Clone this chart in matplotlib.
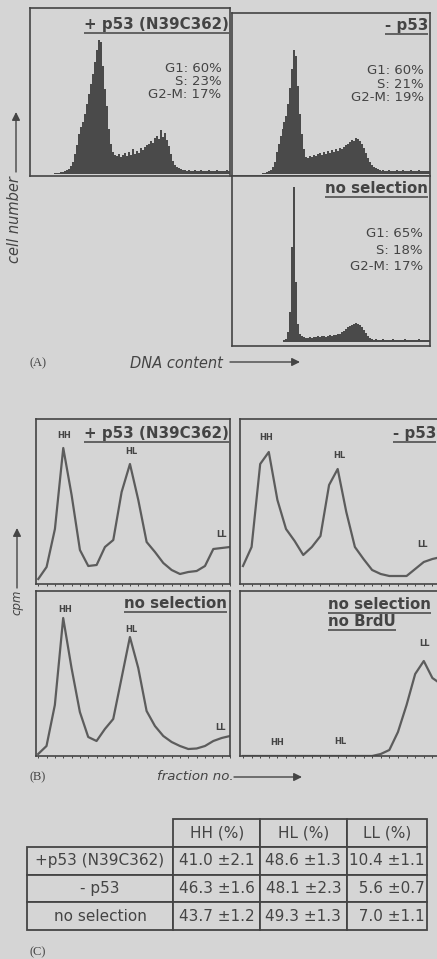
import numpy as np
import matplotlib.pyplot as plt

plt.rcParams['font.family'] = ['DejaVu Sans']

W, H = 437, 959
BG = '#d5d5d5'
INK = '#444444'
FILL = '#4a4a4a'
LINE = '#5c5c5c'

# (A) DNA content histograms, 100 channels each
hist_p53 = [0, 0, 0, 0, 0, 0, 0, 0, 0, 0, 0, 0, 1, 1, 1, 2, 2, 3, 4, 5,
            8, 12, 20, 29, 40, 47, 52, 60, 70, 80, 90, 100, 112, 124, 134, 132, 108, 85, 68, 45,
            30, 22, 19, 18, 20, 17, 19, 21, 18, 22, 19, 25, 20, 23, 21, 26, 24, 27, 29, 30,
            33, 31, 36, 38, 35, 44, 37, 41, 34, 28, 20, 13, 9, 7, 6, 5, 4, 4, 3, 4,
            3, 3, 4, 3, 3, 4, 3, 3, 3, 4, 3, 3, 3, 4, 3, 3, 3, 3, 4, 3]
hist_minus = [0, 0, 0, 0, 0, 0, 0, 0, 0, 0, 0, 0, 0, 0, 0, 1, 1, 2, 3, 4,
              7, 12, 22, 30, 38, 45, 52, 58, 70, 86, 105, 124, 118, 88, 60, 40, 25, 17, 16, 18,
              17, 19, 18, 20, 21, 19, 22, 20, 23, 21, 24, 22, 25, 23, 26, 25, 27, 29, 30, 32,
              34, 33, 36, 35, 33, 30, 26, 21, 16, 12, 9, 7, 6, 5, 4, 3, 4, 3, 3, 4,
              3, 3, 3, 4, 3, 3, 4, 3, 3, 3, 4, 3, 3, 3, 4, 3, 3, 3, 3, 3]
hist_nosel = [0, 0, 0, 0, 0, 0, 0, 0, 0, 0, 0, 0, 0, 0, 0, 0, 0, 0, 0, 0,
              0, 0, 0, 0, 0, 0, 2, 3, 10, 30, 95, 155, 60, 18, 8, 6, 5, 4, 4, 5,
              4, 5, 5, 6, 5, 6, 6, 5, 6, 7, 6, 7, 7, 8, 8, 10, 11, 13, 15, 16,
              17, 18, 19, 18, 17, 15, 12, 9, 6, 4, 3, 2, 3, 2, 2, 2, 3, 2, 2, 2,
              2, 3, 2, 2, 2, 2, 2, 3, 2, 2, 2, 2, 2, 2, 3, 2, 2, 2, 2, 2]

phases_p53 = ['G1: 60%', 'S: 23%', 'G2-M: 17%']
phases_minus = ['G1: 60%', 'S: 21%', 'G2-M: 19%']
phases_nosel = ['G1: 65%', 'S: 18%', 'G2-M: 17%']

# (B) CsCl gradient profiles (cpm per fraction)
fractions = np.arange(1, 25)
cpm_p53 = [5, 17, 55, 136, 89, 34, 18, 19, 37, 44, 92, 120, 84, 42, 32, 21, 14, 10, 12, 13, 18, 35, 36, 37]
cpm_minus = [18, 37, 120, 132, 84, 55, 43, 29, 37, 48, 99, 115, 72, 37, 25, 14, 10, 8, 8, 8, 15, 22, 25, 27]
cpm_nosel = [2, 10, 51, 138, 88, 44, 19, 15, 27, 37, 78, 119, 88, 45, 30, 20, 14, 10, 7, 7.5, 10, 15, 18, 20]
cpm_nobrdu = [0, 0, 0, 0, 0, 0, 0, 0, 0, 0, 0, 0, 0, 0, 0, 0, 2, 6, 24, 51, 82, 95, 78, 72]

# (C) table
table_cols = ['HH (%)', 'HL (%)', 'LL (%)']
table_rows = ['+p53 (N39C362)', '- p53', 'no selection']
hh_mean = [41.0, 46.3, 43.7]
hh_sd = [2.1, 1.6, 1.2]
hl_mean = [48.6, 48.1, 49.3]
hl_sd = [1.3, 2.3, 1.3]
ll_mean = [10.4, 5.6, 7.0]
ll_sd = [1.1, 0.7, 1.1]


def fmt(m, s):
    return f'{m:4.1f}'.replace(' ', '\u2007') + f' ±{s:.1f}'


fig = plt.figure(figsize=(W / 100, H / 100), dpi=100, facecolor=BG)


def px_axes(x0, y0, x1, y1):
    ax = fig.add_axes([x0 / W, 1 - y1 / H, (x1 - x0) / W, (y1 - y0) / H])
    ax.set_facecolor(BG)
    for sp in ax.spines.values():
        sp.set_color(INK)
        sp.set_linewidth(1.2)
    ax.set_xticks([])
    ax.set_yticks([])
    return ax


# --- histograms
edges = np.arange(101)
for box, vals, ylim in [((30, 8, 230, 176), hist_p53, (-2, 166)),
                        ((232, 13, 430, 176), hist_minus, (-2, 161)),
                        ((232, 176, 430, 345.5), hist_nosel, (-3.5, 166))]:
    ax = px_axes(*box)
    ax.stairs(vals, edges, fill=True, color=FILL, lw=0)
    ax.set_xlim(0, 100)
    ax.set_ylim(*ylim)

# --- gradient profiles
for box, vals, xlim in [((36, 419, 230, 584), cpm_p53, (0.73, 23.55)),
                        ((239.7, 419, 441, 584), cpm_minus, (0.62, 24.0)),
                        ((35.5, 591, 230, 756), cpm_nosel, (0.68, 23.55)),
                        ((239.7, 591, 441, 756), cpm_nobrdu, (0.62, 24.0))]:
    ax = px_axes(*box)
    ax.plot(fractions, vals, color=LINE, lw=1.6)
    ax.set_xlim(*xlim)
    ax.set_ylim(0, 165)
    ax.set_xticks(fractions)
    ax.tick_params(axis='x', direction='out', length=1.5, width=0.7, color=INK, labelbottom=False)

# --- table
tab = px_axes(26.7, 819, 426.7, 930)
tab.axis('off')
cell_text = [[''] + table_cols]
for i, r in enumerate(table_rows):
    cell_text.append([r, fmt(hh_mean[i], hh_sd[i]), fmt(hl_mean[i], hl_sd[i]), fmt(ll_mean[i], ll_sd[i])])
tbl = tab.table(cellText=cell_text, cellLoc='center',
                colWidths=[146.6 / 400, 86.7 / 400, 86.7 / 400, 80 / 400], bbox=[0, 0, 1, 1])
tbl.auto_set_font_size(False)
tbl.set_fontsize(11)
for (r, c), cell in tbl.get_celld().items():
    cell.set_facecolor(BG)
    cell.set_edgecolor(INK)
    cell.set_linewidth(1.3)
    cell.get_text().set_color(INK)
tbl[0, 0].visible_edges = 'open'

# --- overlay for labels, in pixel coordinates
ov = fig.add_axes([0, 0, 1, 1])
ov.set_xlim(0, W)
ov.set_ylim(H, 0)
ov.axis('off')
ov.set_zorder(5)

underlined = []


def title(x, y, s, ha='right'):
    t = ov.text(x, y, s, ha=ha, va='baseline', fontsize=10.8, fontweight='bold', color=INK)
    underlined.append((t, y))


title(229, 29, '+ p53 (N39C362)')
title(428, 30, '- p53')
title(428, 193, 'no selection')
title(229, 438, '+ p53 (N39C362)')
title(436, 438, '- p53')
title(227, 608, 'no selection')
title(328, 609, 'no selection', ha='left')
title(328, 626, 'no BrdU', ha='left')

for x, ys, lines in [(221.5, [72, 85, 98], phases_p53),
                     (424, [74, 87.5, 101], phases_minus),
                     (423, [237, 253.5, 270], phases_nosel)]:
    for y, s in zip(ys, lines):
        ov.text(x, y, s, ha='right', va='baseline', fontsize=9.5, color=INK)

peak_labels = [(64.3, 436, 'HH'), (131, 452, 'HL'), (221.7, 534.7, 'LL'),
               (266.3, 437, 'HH'), (339, 455.3, 'HL'), (423, 544.7, 'LL'),
               (65, 610, 'HH'), (131.7, 630, 'HL'), (220, 727.7, 'LL'),
               (276.7, 742.3, 'HH'), (340, 742, 'HL'), (424, 643, 'LL')]
for x, y, s in peak_labels:
    ov.text(x, y, s, ha='center', va='center', fontsize=6, fontweight='bold', color=INK)

arrow = dict(arrowstyle='-|>', color=INK, lw=1.0, mutation_scale=12, shrinkA=0, shrinkB=0)
ov.annotate('', xy=(16, 112), xytext=(16, 172), arrowprops=arrow)
ov.text(15, 220, 'cell number', rotation=90, ha='center', va='center', fontsize=10.5,
        style='italic', color=INK)
ov.text(30, 363, '(A)', ha='left', va='center', fontsize=9, family='Liberation Serif', color=INK)
ov.text(130, 363, 'DNA content', ha='left', va='center', fontsize=10.5, style='italic', color=INK)
ov.annotate('', xy=(300, 362), xytext=(230, 362), arrowprops=arrow)

ov.annotate('', xy=(17, 528), xytext=(17, 588), arrowprops=arrow)
ov.text(16.5, 602, 'cpm', rotation=90, ha='center', va='center', fontsize=8.5,
        style='italic', color=INK)
ov.text(30, 777, '(B)', ha='left', va='center', fontsize=9, family='Liberation Serif', color=INK)
ov.text(156.7, 777, 'fraction no.', ha='left', va='center', fontsize=9.6, style='italic', color=INK)
ov.annotate('', xy=(302, 777), xytext=(234, 777), arrowprops=arrow)

ov.text(30, 952, '(C)', ha='left', va='center', fontsize=9, family='Liberation Serif', color=INK)

# underline the panel titles
fig.canvas.draw()
renderer = fig.canvas.get_renderer()
inv = ov.transData.inverted()
for t, yb in underlined:
    bb = t.get_window_extent(renderer)
    (xa, _), (xb, _) = inv.transform([(bb.x0, bb.y0), (bb.x1, bb.y1)])
    ov.plot([xa, xb], [yb + 3.5, yb + 3.5], color=INK, lw=1.1, solid_capstyle='butt')

fig.savefig('out.png', dpi=100, facecolor=BG)
